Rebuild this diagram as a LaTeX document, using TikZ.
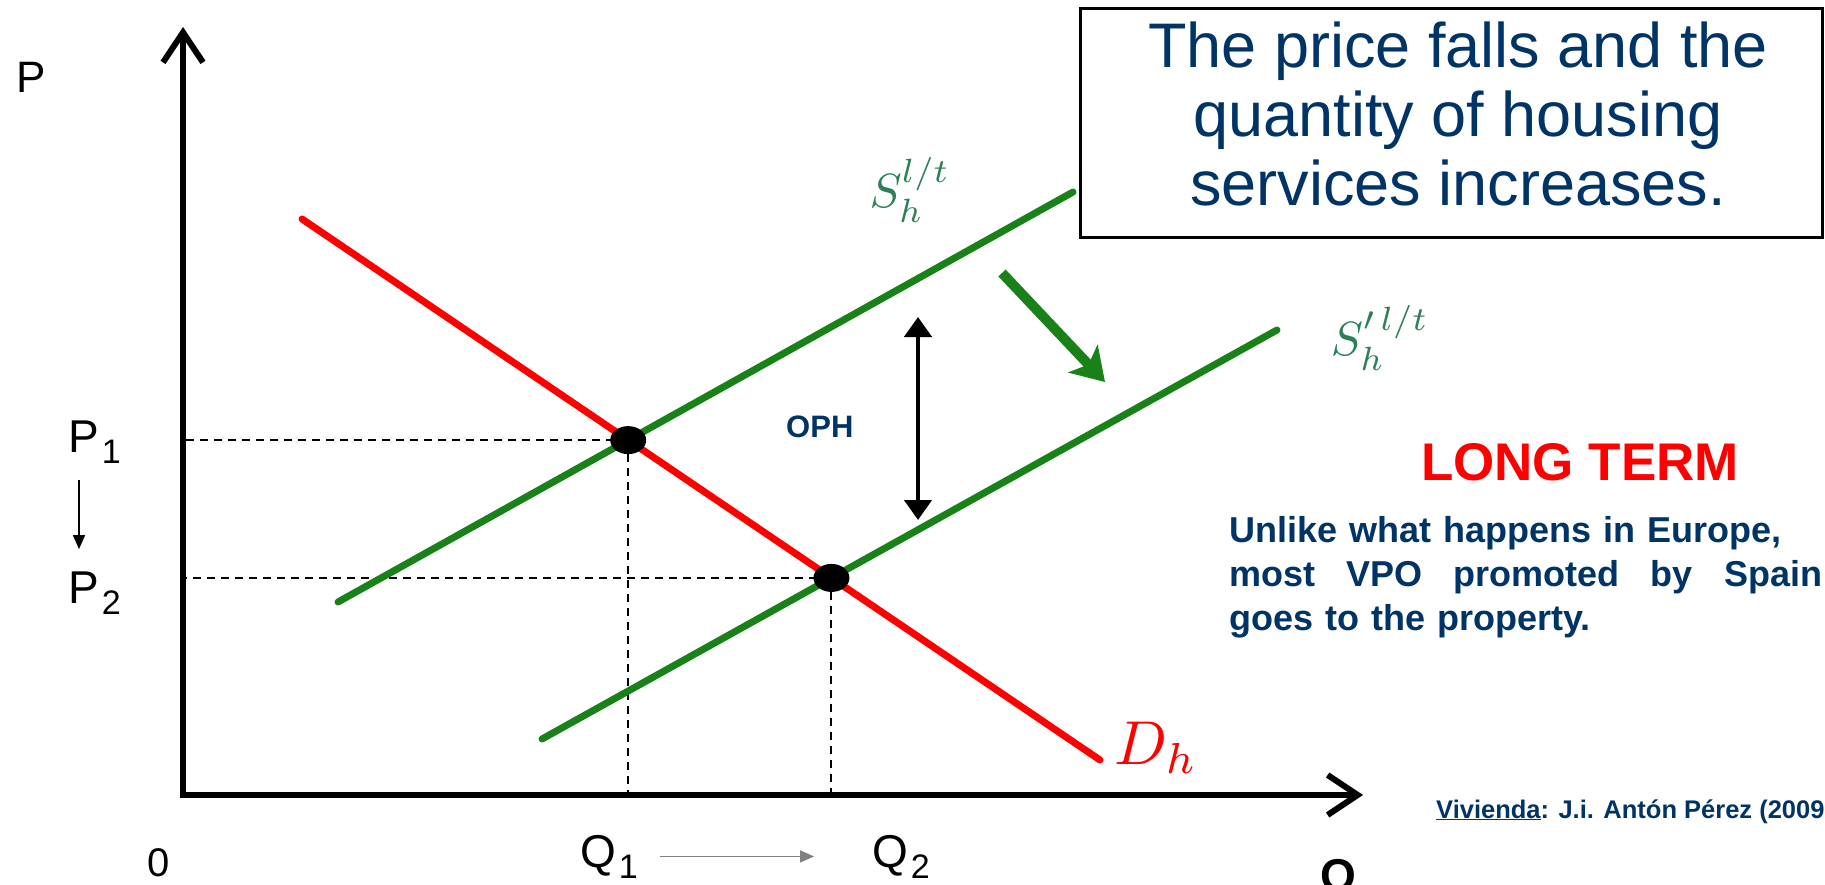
\documentclass[tikz,border=0pt]{standalone}
\usepackage{fontspec}
\setmainfont{Liberation Sans}
\usetikzlibrary{arrows.meta,shapes.geometric}
\definecolor{navy}{RGB}{0,51,102}
\definecolor{curvegreen}{RGB}{24,130,24}
\definecolor{labelgreen}{RGB}{44,128,88}
\newcommand{\fsize}[2]{\fontsize{#1}{#2}\selectfont}
\newcommand{\sublab}[2]{#1\kern3pt\raisebox{-11pt}{\fsize{34}{34}#2}}
\newcommand{\bigmath}[2]{\scalebox{#1}{\fsize{10}{12}$#2$}}

\begin{document}
\begin{tikzpicture}[x=1pt,y=-1pt,
    every node/.style={inner sep=0pt},
    axis/.style={line width=6pt,{Straight Barb[length=30pt,width=40pt]}-{Straight Barb[length=30pt,width=40pt]}},
    curve/.style={line width=7pt,line cap=round},
    guide/.style={line width=2pt,dash pattern=on 8pt off 6pt},
    eqdot/.style={ellipse,fill=black,minimum width=36pt,minimum height=28pt},
    axislabel/.style={anchor=base west,font=\fsize{46}{46}},
    smallarrow/.style={line width=1.6pt,-{Triangle[length=14pt,width=12pt]}}]
  \useasboundingbox (0,0) rectangle (1825,885);

  % points of the curves
  \coordinate (O) at (183,795);
  \coordinate (ytop) at (183,27);
  \coordinate (xend) at (1363,795);
  \coordinate (D1) at (302,219);
  \coordinate (D2) at (1100,760);
  \coordinate (S1) at (338,602);
  \coordinate (S2) at (1073,192);
  \coordinate (Sp1) at (542,739);
  \coordinate (Sp2) at (1277,330);
  \coordinate (E1) at (intersection of D1--D2 and S1--S2);
  \coordinate (E2) at (intersection of D1--D2 and Sp1--Sp2);

  % dashed guides
  \draw[guide] (E1) -- (E1 -| O);
  \draw[guide] (E1) -- (E1 |- O);
  \draw[guide] (E2) -- (E2 -| O);
  \draw[guide] (E2) -- (E2 |- O);

  % supply and demand
  \draw[curve,curvegreen] (S1) -- (S2);
  \draw[curve,curvegreen] (Sp1) -- (Sp2);
  \draw[curve,red] (D1) -- (D2);
  \node[eqdot] (e1) at (E1) {};
  \node[eqdot] (e2) at (E2) {};

  \draw[axis] (ytop) -- (O) -- (xend);

  \node[text=labelgreen] (slab) at (910,190) {\bigmath{4.8}{S_h^{l/t}}};
  \node[text=labelgreen] (splab) at (1380,338) {\bigmath{4.8}{S'^{\,l/t}_h}};
  \node[text=red] (dlab) at (1156,748) {\bigmath{6.2}{D_h}};

  % shift of the supply
  \coordinate (gaptop) at (918,317);
  \coordinate (gapbot) at (918,520);
  \draw[line width=4.5pt,{Triangle[length=20pt,width=27pt]}-{Triangle[length=20pt,width=27pt]}] (gapbot) -- (gaptop);
  \node[anchor=base west,font=\bfseries\fsize{31}{31},text=navy] (oph) at (786,437) {OPH};
  \coordinate (shifta) at (1002,273);
  \coordinate (shiftb) at (1105,382);
  \draw[line width=10pt,curvegreen,-{Stealth[length=32pt,width=40pt,inset=8pt]}] (shifta) -- (shiftb);

  % axis labels
  \node[anchor=base west,font=\fsize{44}{44}] (plab) at (16,93) {P};
  \node[anchor=base west,font=\fsize{40}{40}] (zero) at (147,876) {0};
  \node[axislabel] (p1) at (68,452) {\sublab{P}{1}};
  \node[axislabel] (p2) at (68,603) {\sublab{P}{2}};
  \node[axislabel] (q1) at (580,867) {\sublab{Q}{1}};
  \node[axislabel] (q2) at (872,867) {\sublab{Q}{2}};
  \node[anchor=base west,font=\bfseries\fsize{46}{46}] (qlab) at (1320,891) {Q};
  \draw[smallarrow] ([xshift=11pt,yshift=-17pt]p1.south west) -- ([xshift=11pt,yshift=22pt]p2.north west);
  \draw[smallarrow,gray] ([xshift=22pt]q1.east) -- ([xshift=-58pt]q2.west);

  % texts on the right
  \node[draw,line width=3pt,minimum width=742pt,minimum height=229pt] (msgbox) at (1451,123.5) {};
  \node[align=center,font=\fsize{63}{69},text=navy] (msgtext) at ([xshift=7pt,yshift=10pt]msgbox.center)
    {The price falls and the\\quantity of housing\\services increases.};
  \node[anchor=base,font=\bfseries\fsize{53}{53},text=red] (longterm) at (1580,480) {LONG TERM};
  \node[anchor=north west,text width=593pt,align=left,font=\bfseries\fsize{36}{44},text=navy] (note) at (1229,516)
    {Unlike what happens in Europe,\\ most\hfill VPO\hfill promoted\hfill by\hfill Spain\\ goes to the property.};
  \node[anchor=base west,font=\bfseries\fsize{25.5}{25.5},text=navy] (source) at (1436,818)
    {\underline{Vivienda}: J.i. Antón Pérez (2009};
\end{tikzpicture}
\end{document}
